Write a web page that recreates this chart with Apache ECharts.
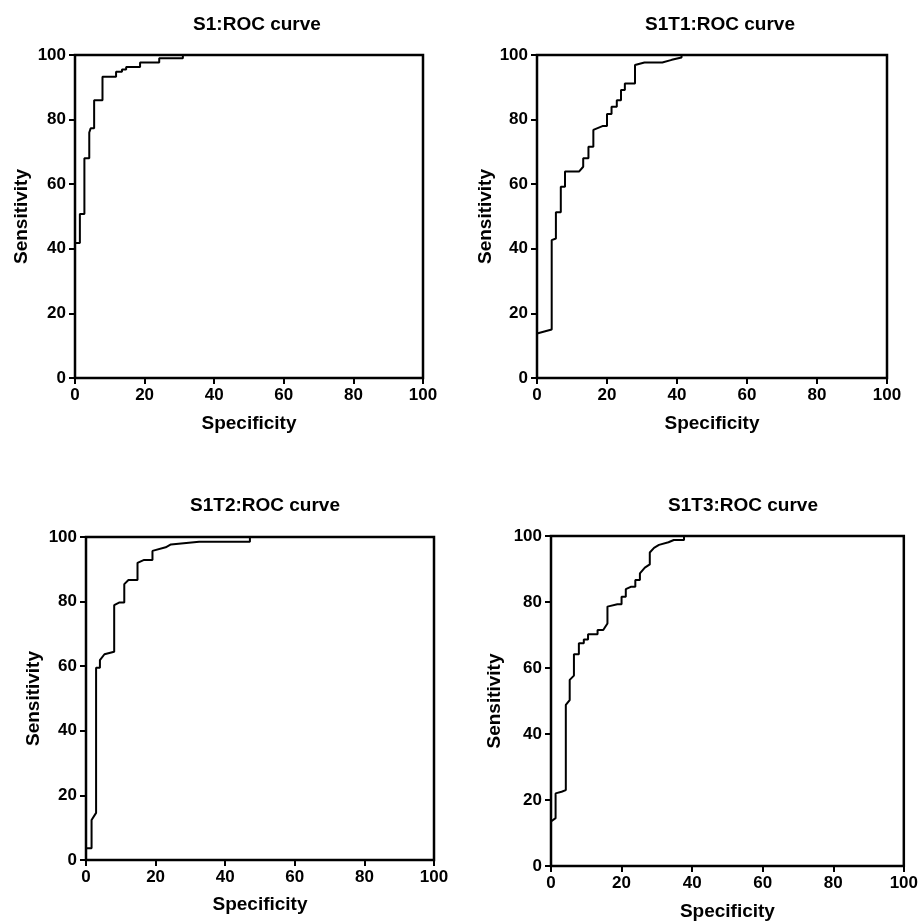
<!DOCTYPE html>
<html>
<head>
<meta charset="utf-8">
<title>ROC curves</title>
<script src="https://cdn.jsdelivr.net/npm/echarts@6/dist/echarts.min.js"></script>
<style>
  html, body { margin: 0; padding: 0; background: #fff; }
  #chart { width: 921px; height: 924px; }
</style>
</head>
<body>
<div id="chart"></div>
<script>
// panel titles
var titles = ["S1:ROC curve", "S1T1:ROC curve", "S1T2:ROC curve", "S1T3:ROC curve"];
var xName = "Specificity";
var yName = "Sensitivity";

// curve corners (specificity axis value, sensitivity)
var s1Spec = [0, 0, 1.4, 1.4, 2.7, 2.7, 4.1, 4.1, 4.5, 5.5, 5.5, 7.9, 7.9, 11.8, 11.8, 13.5, 13.5, 14.7, 14.7, 18.7, 18.7, 24.2, 24.2, 31, 31, 100];
var s1Sens = [0, 41.8, 41.8, 50.8, 50.8, 68, 68, 76, 77.3, 77.3, 86, 86, 93.3, 93.3, 94.8, 94.8, 95.5, 95.5, 96.3, 96.3, 97.7, 97.7, 99, 99, 100, 100];

var s1t1Spec = [0, 0, 4.2, 4.2, 5.4, 5.4, 6.8, 6.8, 8.0, 8.0, 12, 13.2, 13.2, 14.7, 14.7, 16.1, 16.1, 18.7, 20, 20, 21.3, 21.3, 22.8, 22.8, 24, 24, 25.1, 25.1, 28, 28, 30.7, 35.8, 38.5, 41.3, 41.3, 100];
var s1t1Sens = [0, 13.8, 15, 42.7, 43.2, 51.3, 51.3, 59.2, 59.2, 63.9, 63.9, 65.4, 68, 68, 71.6, 71.6, 76.8, 78, 78, 81.7, 81.7, 84, 84, 86, 86, 89.2, 89.2, 91.2, 91.2, 96.9, 97.7, 97.7, 98.5, 99.2, 100, 100];

var s1t2Spec = [0, 0, 1.6, 1.6, 2.9, 2.9, 4.0, 4.0, 5.3, 8.1, 8.1, 9.5, 11, 11, 12.2, 14.8, 14.8, 16.7, 19.1, 19.1, 22.9, 24.4, 32.5, 47.1, 47.1, 100];
var s1t2Sens = [0, 3.6, 3.6, 12.4, 14.6, 59.5, 59.5, 61.9, 63.7, 64.5, 78.9, 79.7, 79.7, 85.4, 86.7, 86.7, 92, 92.9, 92.9, 95.7, 96.8, 97.7, 98.5, 98.5, 100, 100];

var s1t3Spec = [0, 0, 1.3, 1.3, 3.0, 4.2, 4.2, 5.3, 5.3, 6.5, 6.5, 7.9, 7.9, 9.3, 9.3, 10.5, 10.5, 13.2, 13.2, 14.8, 16, 16, 18.8, 20, 20, 21.2, 21.2, 22.6, 23.9, 23.9, 25.2, 25.2, 26.6, 28, 28, 29.2, 30.6, 33.3, 34.8, 37.7, 37.7, 100];
var s1t3Sens = [0, 13.5, 14.5, 22, 22.5, 23, 48.8, 50.3, 56.4, 57.7, 64.2, 64.2, 67.5, 67.5, 68.6, 68.6, 70.2, 70.2, 71.5, 71.5, 73.5, 78.6, 79.3, 79.3, 81.6, 81.6, 83.9, 84.6, 84.6, 86.7, 86.7, 88.7, 90.4, 91.4, 95, 96.4, 97.3, 98.1, 98.8, 98.8, 100, 100];

var specList = [s1Spec, s1t1Spec, s1t2Spec, s1t3Spec];
var sensList = [s1Sens, s1t1Sens, s1t2Sens, s1t3Sens];

// pixel boxes of the four plots
var boxes = [
    { left: 75, top: 55, width: 348, height: 323, titleX: 252, titleY: 10, yGap: 44, xGap: 36 },
    { left: 537, top: 55, width: 350, height: 323, titleX: 715, titleY: 10, yGap: 42, xGap: 36 },
    { left: 86, top: 537, width: 348, height: 323, titleX: 260, titleY: 491, yGap: 43, xGap: 35 },
    { left: 551, top: 536, width: 354, height: 330, titleX: 738, titleY: 491, yGap: 47, xGap: 36 }
];

var font = "'Liberation Sans', Arial, sans-serif";

function pairs(xs, ys) {
    var out = [];
    for (var i = 0; i < xs.length; i++) {
        out.push([xs[i], ys[i]]);
    }
    return out;
}

var option = {
    backgroundColor: "#fff",
    animation: false,
    title: [],
    grid: [],
    xAxis: [],
    yAxis: [],
    series: []
};

for (var k = 0; k < 4; k++) {
    var b = boxes[k];
    option.title.push({
        text: titles[k],
        left: b.titleX,
        top: b.titleY,
        textAlign: "center",
        textStyle: { fontFamily: font, fontSize: 19, fontWeight: "bold", color: "#000" }
    });
    option.grid.push({
        left: b.left, top: b.top, width: b.width, height: b.height,
        show: true, borderColor: "#000", borderWidth: 2.5, backgroundColor: "transparent"
    });
    var axisCommon = {
        gridIndex: k,
        type: "value",
        min: 0,
        max: 100,
        interval: 20,
        nameLocation: "middle",
        nameTextStyle: { fontFamily: font, fontSize: 19, fontWeight: "bold", color: "#000" },
        axisLine: { show: true, onZero: false, lineStyle: { color: "#000", width: 2 } },
        axisTick: { show: true, length: 6, lineStyle: { color: "#000", width: 2 } },
        axisLabel: { fontFamily: font, fontSize: 17, fontWeight: "bold", color: "#000", margin: 9 },
        splitLine: { show: false }
    };
    option.xAxis.push(Object.assign({}, axisCommon, { name: xName, nameGap: b.xGap }));
    option.yAxis.push(Object.assign({}, axisCommon, { name: yName, nameGap: b.yGap }));
    option.series.push({
        type: "line",
        xAxisIndex: k,
        yAxisIndex: k,
        data: pairs(specList[k], sensList[k]),
        symbol: "none",
        lineStyle: { color: "#000", width: 2 },
        clip: true
    });
}

var chart = echarts.init(document.getElementById("chart"));
chart.setOption(option);
</script>
</body>
</html>
